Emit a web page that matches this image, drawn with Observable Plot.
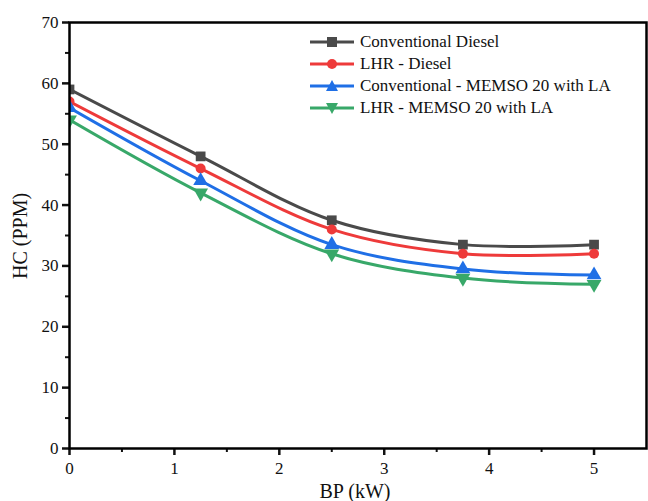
<!DOCTYPE html>
<html><head><meta charset="utf-8">
<script src="https://cdn.jsdelivr.net/npm/d3@7"></script>
<script src="https://cdn.jsdelivr.net/npm/@observablehq/plot@0.6"></script>
<style>
body{margin:0;background:#fff;}
#wrap{position:relative;width:648px;height:501px;font-family:"Liberation Serif","Times New Roman",Times,"DejaVu Serif","Noto Serif",serif;}
#wrap svg text{font-family:"Liberation Serif","Times New Roman",Times,"DejaVu Serif","Noto Serif",serif;}
#legend{position:absolute;left:308px;top:31px;font-size:17px;line-height:22px;color:#111;}
#legend div{display:flex;align-items:center;height:22px;}
#legend svg{margin-right:4px;}
</style></head><body>
<div id="wrap"></div>
<script>
const bp = [0, 1.25, 2.5, 3.75, 5];
const seriesNames = ["Conventional Diesel", "LHR - Diesel", "Conventional - MEMSO 20 with LA", "LHR - MEMSO 20 with LA"];
const convDiesel = [59, 48, 37.5, 33.5, 33.5];
const lhrDiesel = [57, 46, 36, 32, 32];
const convMemso = [56, 44, 33.5, 29.5, 28.5];
const lhrMemso = [54, 42, 32, 28, 27];
const xTicks = [0, 1, 2, 3, 4, 5];
const xMinor = [0.5, 1.5, 2.5, 3.5, 4.5];
const yTicks = [0, 10, 20, 30, 40, 50, 60, 70];
const yMinor = [5, 15, 25, 35, 45, 55, 65];
const colors = ["#4a4a4a", "#ee3a3a", "#1f6fe6", "#38a869"];

const allSeries = [convDiesel, lhrDiesel, convMemso, lhrMemso];
const data = [];
allSeries.forEach((vals, i) => vals.forEach((v, j) => data.push({s: seriesNames[i], x: bp[j], y: v, i})));

const sqrt3 = Math.sqrt(3);
const triDown = {draw(ctx, size){const y = Math.sqrt(size / (sqrt3 * 3)); ctx.moveTo(0, y * 2); ctx.lineTo(-sqrt3 * y, -y); ctx.lineTo(sqrt3 * y, -y); ctx.closePath();}};
const symbolFor = ["square", "circle", "triangle", triDown];

const marks = [];
seriesNames.forEach((name, i) => {
  const d = data.filter(e => e.i === i);
  marks.push(Plot.line(d, {x: "x", y: "y", stroke: colors[i], strokeWidth: 3, curve: "catmull-rom", clip: true}));
});
seriesNames.forEach((name, i) => {
  const d = data.filter(e => e.i === i);
  const sym = symbolFor[i];
  marks.push(Plot.dot(d, {x: "x", y: "y", fill: colors[i], stroke: "none", symbol: () => sym, r: i === 1 ? 5 : 5.5, clip: true}));
});

const serif = "'Liberation Serif', 'Times New Roman', Times, 'DejaVu Serif', 'Noto Serif', serif";
const plot = Plot.plot({
  width: 648, height: 501,
  marginLeft: 69, marginRight: 2, marginTop: 22, marginBottom: 53,
  style: {fontFamily: serif, fontSize: "17px", color: "#111", background: "#fff"},
  x: {domain: [0, 5.5]},
  y: {domain: [0, 70]},
  symbol: {type: "identity"},
  marks: [
    ...marks,
    Plot.axisX({ticks: xTicks, tickSize: 7, tickPadding: 6, tickFormat: d => String(d), strokeWidth: 2.5, fontSize: 17, label: null, anchor: "bottom"}),
    Plot.axisX({ticks: xMinor, tickSize: 4, text: null, strokeWidth: 2, label: null, anchor: "bottom"}),
    Plot.axisY({ticks: yTicks, tickSize: 7, tickPadding: 4, tickFormat: d => String(d), strokeWidth: 2.5, fontSize: 17, label: null, anchor: "left"}),
    Plot.axisY({ticks: yMinor, tickSize: 4, text: null, strokeWidth: 2, label: null, anchor: "left"}),
    Plot.frame({stroke: "#000", strokeWidth: 2.5})
  ]
});
const wrap = document.getElementById("wrap");
wrap.appendChild(plot);
const svg = d3.select(plot);
svg.append("text").attr("x", 355).attr("y", 498).attr("text-anchor", "middle").attr("font-size", 20).attr("fill", "#111").text("BP (kW)");
svg.append("text").attr("transform", "translate(27,236) rotate(-90)").attr("text-anchor", "middle").attr("font-size", 20).attr("fill", "#111").text("HC (PPM)");

const legend = document.createElement("div");
legend.id = "legend";
seriesNames.forEach((name, i) => {
  const row = document.createElement("div");
  const s = d3.create("svg").attr("width", 48).attr("height", 14);
  s.append("line").attr("x1", 2).attr("x2", 46).attr("y1", 7).attr("y2", 7).attr("stroke", colors[i]).attr("stroke-width", 3);
  const g = s.append("g").attr("transform", "translate(24,7)");
  if (i === 0) g.append("rect").attr("x", -5).attr("y", -5).attr("width", 10).attr("height", 10).attr("fill", colors[i]);
  else if (i === 1) g.append("circle").attr("r", 5).attr("fill", colors[i]);
  else if (i === 2) g.append("path").attr("d", "M0,-6L6,5L-6,5Z").attr("fill", colors[i]);
  else g.append("path").attr("d", "M0,6L6,-5L-6,-5Z").attr("fill", colors[i]);
  row.appendChild(s.node());
  const t = document.createElement("span"); t.textContent = name; row.appendChild(t);
  legend.appendChild(row);
});
wrap.appendChild(legend);
</script>
</body></html>
